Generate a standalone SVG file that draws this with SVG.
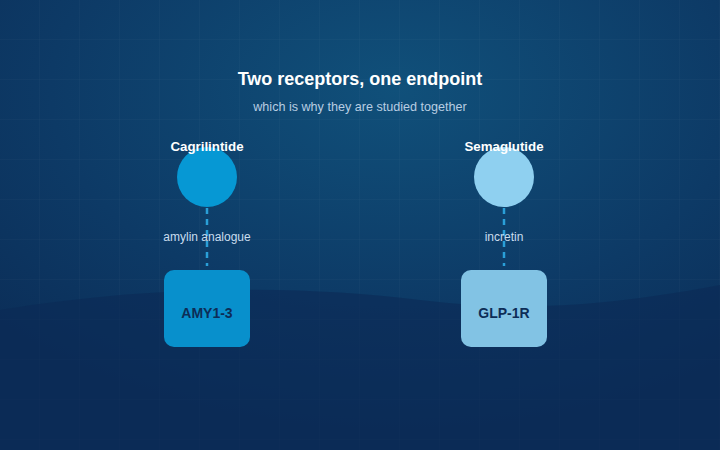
<svg xmlns="http://www.w3.org/2000/svg" width="720" height="450" viewBox="0 0 720 450">
<defs>
<radialGradient id="bg" cx="0.55" cy="0.2" r="0.8">
<stop offset="0" stop-color="#10507a"/><stop offset="0.6" stop-color="#0d3a66"/><stop offset="1" stop-color="#0b2d57"/>
</radialGradient>
<pattern id="grid" width="40" height="40" patternUnits="userSpaceOnUse">
<path d="M40 0V40M0 40H40" fill="none" stroke="#ffffff" stroke-opacity="0.04" stroke-width="1"/>
</pattern>
<style>
.t{font-family:"Liberation Sans",Arial,sans-serif}
.lbl{font-size:12px;fill:#c9dcee;text-anchor:middle}
.name{font-size:13.3px;font-weight:bold;fill:#fff;text-anchor:middle}
.box{font-size:14px;font-weight:bold;fill:#0d2d57;text-anchor:middle}
.con{stroke:#2a9fd8;stroke-width:2.5;stroke-dasharray:6 5;fill:none}
</style>
</defs>
<rect width="720" height="450" fill="url(#bg)"/>
<rect width="720" height="450" fill="url(#grid)"/>
<path d="M0 310 C150 285 300 285 420 300 C540 315 640 300 720 285 V450 H0Z" fill="#0b2a55" fill-opacity="0.6"/>
<text class="t" x="360" y="85" font-size="18" font-weight="bold" fill="#fff" text-anchor="middle">Two receptors, one endpoint</text>
<text class="t" x="360" y="111" font-size="12.6" fill="#b8cde2" text-anchor="middle">which is why they are studied together</text>
<g id="connectors">
<line class="con" x1="207" y1="208" x2="207" y2="266"/>
<line class="con" x1="504" y1="208" x2="504" y2="266"/>
<text class="t lbl" x="207" y="241">amylin analogue</text>
<text class="t lbl" x="504" y="241">incretin</text>
</g>
<g id="cagrilintide">
<circle cx="207" cy="177" r="30" fill="#0698d4"/>
<text class="t name" x="207" y="151">Cagrilintide</text>
</g>
<g id="semaglutide">
<circle cx="504" cy="177" r="30" fill="#8fd0f0"/>
<text class="t name" x="504" y="151">Semaglutide</text>
</g>
<g id="amy">
<rect x="164" y="270" width="86" height="77" rx="10" fill="#0890cc"/>
<text class="t box" x="207" y="318">AMY1-3</text>
</g>
<g id="glp">
<rect x="461" y="270" width="86" height="77" rx="10" fill="#82c3e4"/>
<text class="t box" x="504" y="318">GLP-1R</text>
</g>
</svg>
